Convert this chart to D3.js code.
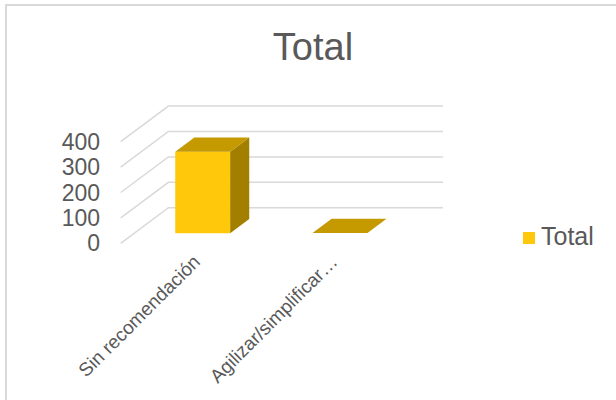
<!DOCTYPE html>
<html>
<head>
<meta charset="utf-8">
<script src="https://cdn.jsdelivr.net/npm/d3@7/dist/d3.min.js"></script>
<style>
  html, body { margin: 0; padding: 0; background: #fff; }
  svg { display: block; font-family: "Liberation Sans", Arial, sans-serif; }
</style>
</head>
<body>
<svg id="chart" width="616" height="400"></svg>
<script>
const categories = ["Sin recomendación", "Agilizar/simplificar…"];
const values = [321, 1];
const seriesName = "Total";
const yTicks = [0, 100, 200, 300, 400];
const title = "Total";

const svg = d3.select("#chart");
const W = 616, H = 400;

// frame
svg.append("rect").attr("x", 6).attr("y", 5).attr("width", W + 10).attr("height", H + 10)
  .attr("fill", "#fff").attr("stroke", "#d9d9d9").attr("stroke-width", 2);

// 3D oblique projection
const DX = 47.7, DY = -35.6;
const x = d3.scaleBand().domain(categories).range([120.7, 395.3]).paddingInner(0).paddingOuter(0);
const y = d3.scaleLinear().domain([0, 400]).range([243.3, 141.7]);
const P = (px, v, z) => [px + z * DX, y(v) + z * DY];

const grid = svg.append("g");
yTicks.forEach(t => {
  const a = P(x.range()[0], t, 0), b = P(x.range()[0], t, 1), c = P(x.range()[1], t, 1);
  grid.append("path").attr("d", `M${a[0]},${a[1]}L${b[0]},${b[1]}L${c[0]},${c[1]}`)
    .attr("fill", "none").attr("stroke", "#d9d9d9").attr("stroke-width", 1.5);
});

// y axis labels
svg.append("g").selectAll("text").data(yTicks).join("text")
  .attr("x", 100).attr("y", d => y(d)).attr("dy", "0.35em")
  .attr("text-anchor", "end").attr("font-size", 23).attr("fill", "#595959")
  .text(d => d);

// bars
const z0 = 0.28, z1 = 0.68, bw = 0.4;
const bars = svg.append("g");
categories.forEach((c, i) => {
  const v = values[i];
  const xl = x(c) + x.bandwidth() * (1 - bw) / 2, xr = xl + x.bandwidth() * bw;
  const pts = (arr) => arr.map(p => p.join(",")).join(" ");
  const fbl = P(xl, 0, z0), fbr = P(xr, 0, z0), ftl = P(xl, v, z0), ftr = P(xr, v, z0);
  const btl = P(xl, v, z1), btr = P(xr, v, z1), bbr = P(xr, 0, z1);
  if (Math.abs(fbl[1] - ftl[1]) > 1.5) {
    bars.append("polygon").attr("points", pts([fbl, fbr, ftr, ftl])).attr("fill", "#ffc80a");
    bars.append("polygon").attr("points", pts([fbr, bbr, btr, ftr])).attr("fill", "#a37f00");
  }
  bars.append("polygon").attr("points", pts([ftl, ftr, btr, btl])).attr("fill", "#c49a00");
});

// category labels
svg.append("g").selectAll("text").data(categories).join("text")
  .attr("transform", d => `translate(${x(d) + x.bandwidth() / 2 + 12},${263}) rotate(-45)`)
  .attr("text-anchor", "end").attr("font-size", 19).attr("fill", "#595959")
  .text(d => d);

// title
svg.append("text").attr("x", 313).attr("y", 60).attr("text-anchor", "middle")
  .attr("font-size", 38).attr("fill", "#595959").text(title);

// legend
svg.append("rect").attr("x", 523).attr("y", 232).attr("width", 12).attr("height", 12).attr("fill", "#ffc80a");
svg.append("text").attr("x", 541).attr("y", 245).attr("font-size", 25).attr("fill", "#595959").text(seriesName);
</script>
</body>
</html>
